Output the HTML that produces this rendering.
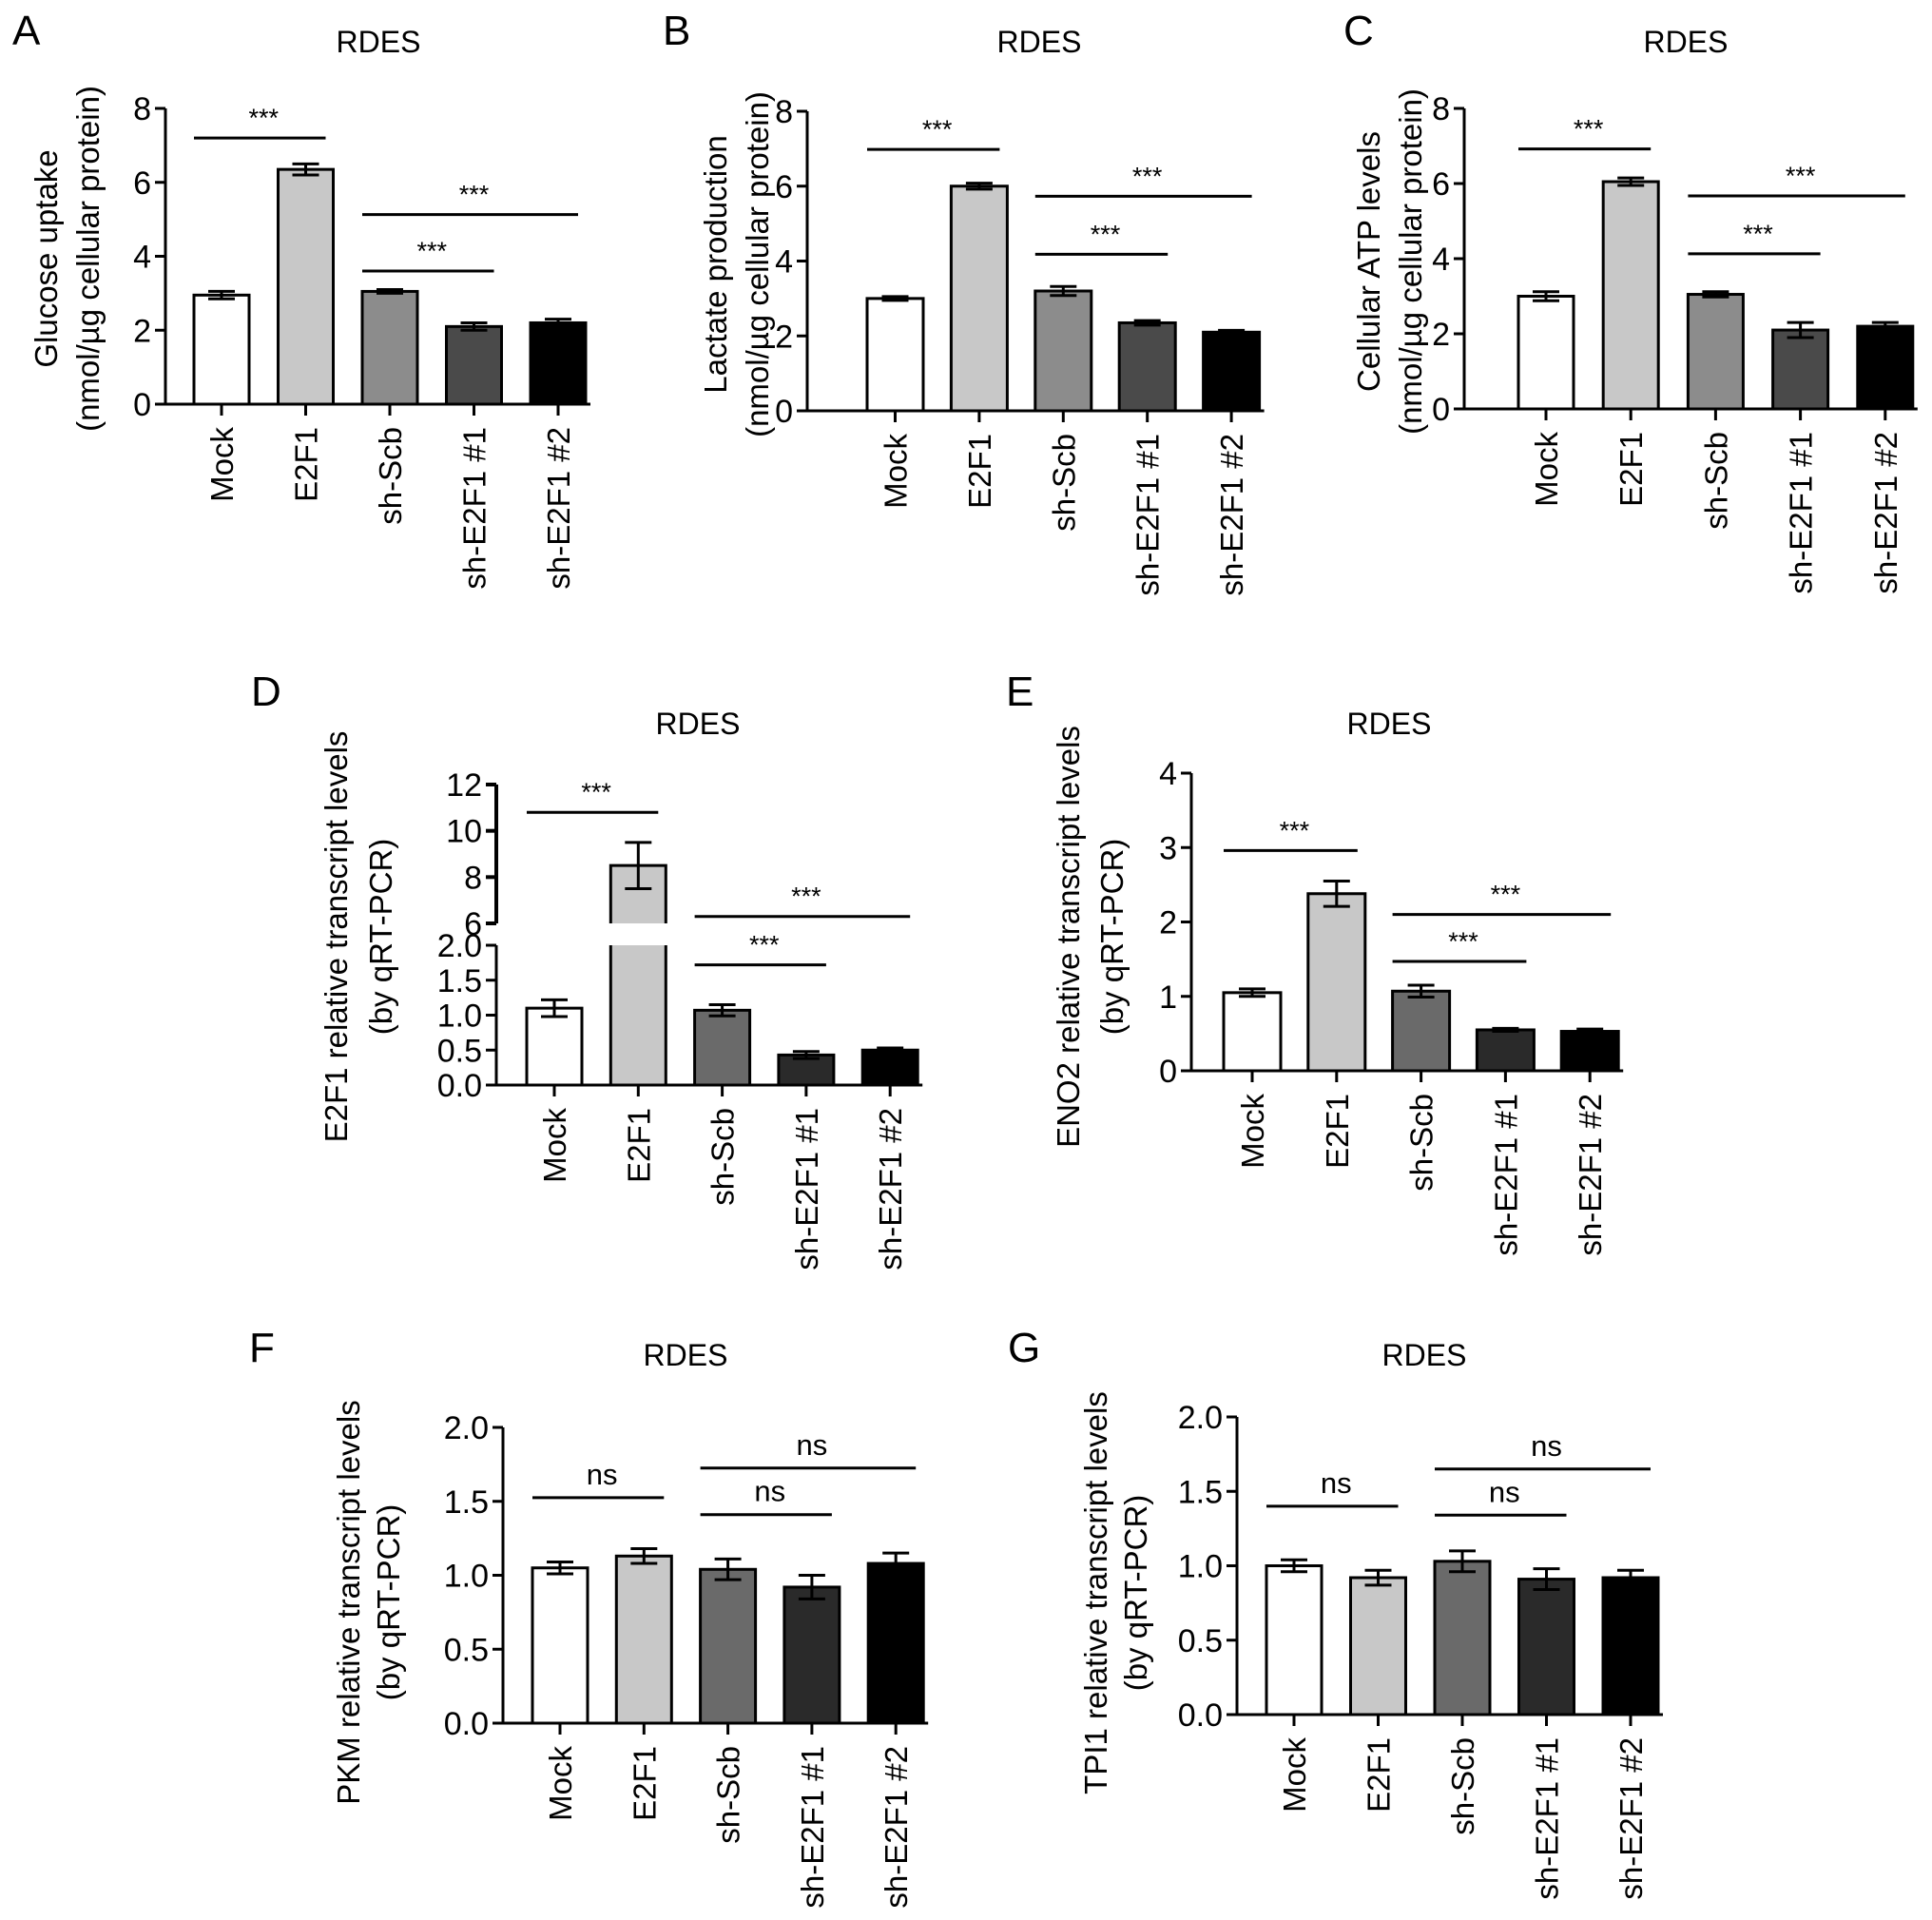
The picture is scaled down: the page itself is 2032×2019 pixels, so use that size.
<!DOCTYPE html>
<html><head><meta charset="utf-8"><style>
html,body{margin:0;padding:0;background:#fff;}
svg{display:block;font-family:"Liberation Sans",Arial,sans-serif;}
</style></head><body>
<svg id="fig" width="2032" height="2019" viewBox="0 0 2032 2019" xmlns="http://www.w3.org/2000/svg"></svg>
<script>
const categories = ["Mock","E2F1","sh-Scb","sh-E2F1 #1","sh-E2F1 #2"];
const valuesA = [2.95,6.35,3.05,2.1,2.2];
const errorsA = [0.1,0.15,0.05,0.1,0.1];
const valuesB = [3.0,6.0,3.2,2.35,2.1];
const errorsB = [0.05,0.08,0.12,0.06,0.05];
const valuesC = [3.0,6.05,3.05,2.1,2.2];
const errorsC = [0.12,0.1,0.07,0.2,0.1];
const valuesD = [1.1,8.5,1.07,0.43,0.5];
const errorsD = [0.12,1.0,0.08,0.05,0.03];
const valuesE = [1.05,2.38,1.07,0.55,0.53];
const errorsE = [0.05,0.17,0.08,0.02,0.03];
const valuesF = [1.05,1.13,1.04,0.92,1.08];
const errorsF = [0.04,0.05,0.07,0.08,0.07];
const valuesG = [1.0,0.92,1.03,0.91,0.92];
const errorsG = [0.04,0.05,0.07,0.07,0.05];
const ticks8 = [0,2,4,6,8];
const ticks4 = [0,1,2,3,4];
const ticks2 = [0,0.5,1.0,1.5,2.0];
const ticksDUpper = [6,8,10,12];

const NS="http://www.w3.org/2000/svg";
const svg=document.getElementById('fig');
function el(tag,attrs,parent){const e=document.createElementNS(NS,tag);for(const k in attrs)e.setAttribute(k,attrs[k]);(parent||svg).appendChild(e);return e;}

function panel(p){
  const g=el('g',{});
  
  
  const L=el('text',{x:p.letter[0],y:p.letter[1],'font-size':44,fill:'#000'},g);L.textContent=p.id;
  
  
  const T=el('text',{x:p.title[0],y:p.title[1],'font-size':32,'text-anchor':'middle'},g);T.textContent='RDES';
  
  
  const n=categories.length;
  const bw=p.bw;
  const xc=i=>p.c0+p.cs*i;
  const x1=xc(n-1)+bw/2+5;
  let yScale;
  if(p.broken){
    yScale=v=> v<=2 ? p.y0-(v/2)*(p.y0-p.yl2) : p.yu6-((v-6)/6)*(p.yu6-p.yu12);
  } else {
    yScale=v=>p.y0-(v/p.max)*(p.y0-p.ytop);
  }
  const colors=p.colors;
  for(let i=0;i<n;i++){
    const v=p.values[i],e=p.errors[i];
    if(p.broken && v>2){
      const r1=el('rect',{x:xc(i)-bw/2,y:p.yl2,width:bw,height:p.y0-p.yl2,fill:colors[i],stroke:'none'},g);
      
      
      el('line',{x1:xc(i)-bw/2,y1:p.yl2,x2:xc(i)-bw/2,y2:p.y0,stroke:'#000','stroke-width':3},g);
      el('line',{x1:xc(i)+bw/2,y1:p.yl2,x2:xc(i)+bw/2,y2:p.y0,stroke:'#000','stroke-width':3},g);
      const r2=el('rect',{x:xc(i)-bw/2,y:yScale(v),width:bw,height:p.yu6-yScale(v),fill:colors[i],stroke:'none'},g);
      
      
      el('polyline',{points:`${xc(i)-bw/2},${p.yu6} ${xc(i)-bw/2},${yScale(v)} ${xc(i)+bw/2},${yScale(v)} ${xc(i)+bw/2},${p.yu6}`,fill:'none',stroke:'#000','stroke-width':3},g);
    } else {
      const r=el('rect',{x:xc(i)-bw/2,y:yScale(v),width:bw,height:p.y0-yScale(v),fill:colors[i],stroke:'#000','stroke-width':3},g);
      
      
    }
    const yt=yScale(v+e),yb=yScale(v-e);
    const eb=el('path',{d:`M${xc(i)-14},${yt}H${xc(i)+14}M${xc(i)},${yt}V${yb}M${xc(i)-14},${yb}H${xc(i)+14}`,stroke:'#000','stroke-width':3,fill:'none'},g);
    
    
  }
  if(p.broken){
    el('line',{x1:p.x0,y1:p.y0,x2:p.x0,y2:p.yl2,stroke:'#000','stroke-width':3},g);
    el('line',{x1:p.x0,y1:p.yu6,x2:p.x0,y2:p.yu12,stroke:'#000','stroke-width':4},g);
  } else {
    el('line',{x1:p.x0,y1:p.y0,x2:p.x0,y2:p.ytop,stroke:'#000','stroke-width':3},g);
  }
  const xa=el('line',{x1:p.x0-10,y1:p.y0,x2:x1,y2:p.y0,stroke:'#000','stroke-width':3},g);
  
  
  for(const t of p.ticks){
    const y=yScale(t);
    el('line',{x1:p.x0-11,y1:y,x2:p.x0,y2:y,stroke:'#000','stroke-width':3},g);
    const tx=el('text',{x:p.x0-15,y:y+12,'font-size':34,'text-anchor':'end'},g);
    tx.textContent=p.fmt?t.toFixed(1):t;
    
    
  }
  if(p.broken){
    for(const t of ticksDUpper){
      const y=yScale(t);
      el('line',{x1:p.x0-11,y1:y,x2:p.x0,y2:y,stroke:'#000','stroke-width':4},g);
      const tx=el('text',{x:p.x0-15,y:y+12,'font-size':34,'text-anchor':'end'},g);
      tx.textContent=t;
      
      
    }
  }
  for(let i=0;i<n;i++){
    el('line',{x1:xc(i),y1:p.y0,x2:xc(i),y2:p.y0+12,stroke:'#000','stroke-width':3},g);
    const c=el('text',{x:0,y:0,'font-size':33,'text-anchor':'end',transform:`translate(${xc(i)+12},${p.y0+24}) rotate(-90)`},g);
    c.textContent=categories[i];
    
    
  }
  const yl=el('text',{'font-size':33,'text-anchor':'middle',transform:`translate(${p.ylx},${p.ylc}) rotate(-90)`},g);
  p.ylabel.forEach((s,k)=>{const ts=el('tspan',{x:0,dy:k===0?0:p.ylgap},yl);ts.textContent=s;});
  
  
  for(const s of p.sig){
    const y=yScale(s[2]);
    const ln=el('line',{x1:xc(s[0])-bw/2,y1:y,x2:xc(s[1])+bw/2-8,y2:y,stroke:'#000','stroke-width':3},g);
    
    
    const st=el('text',{x:(xc(s[0])+xc(s[1]))/2,y:p.ns?y-14:y-12,'font-size':p.ns?31:27,'text-anchor':'middle'},g);
    st.textContent=p.ns?'ns':'***';
    
    
  }
}
const colA=['#fff','#c8c8c8','#8c8c8c','#4a4a4a','#000'];
const colB=['#fff','#c8c8c8','#6a6a6a','#2a2a2a','#000'];
panel({id:'A',letter:[13,47],title:[398,55],x0:174,c0:233,cs:88.5,y0:425,ytop:114,max:8,bw:58,values:valuesA,errors:errorsA,ticks:ticks8,colors:colA,ylx:60,ylc:272,ylgap:44,ylabel:['Glucose uptake','(nmol/µg cellular protein)'],sig:[[0,1,7.2],[2,3,3.6],[2,4,5.13]]});
panel({id:'B',letter:[697,47],title:[1093,55],x0:849,c0:941.5,cs:88.4,y0:432,ytop:117,max:8,bw:59,values:valuesB,errors:errorsB,ticks:ticks8,colors:colA,ylx:764,ylc:278,ylgap:44,ylabel:['Lactate production','(nmol/µg cellular protein)'],sig:[[0,1,6.98],[2,3,4.18],[2,4,5.73]]});
panel({id:'C',letter:[1413,47],title:[1773,55],x0:1540,c0:1626,cs:89.2,y0:430,ytop:114,max:8,bw:58,values:valuesC,errors:errorsC,ticks:ticks8,colors:colA,ylx:1451,ylc:275,ylgap:44,ylabel:['Cellular ATP levels','(nmol/µg cellular protein)'],sig:[[0,1,6.92],[2,3,4.13],[2,4,5.67]]});
panel({id:'D',broken:true,letter:[264,742],title:[734,772],x0:522,c0:583,cs:88.3,y0:1141,yl2:994,yu6:971,yu12:825,bw:58,values:valuesD,errors:errorsD,ticks:ticks2,fmt:true,colors:colB,ylx:365,ylc:985,ylgap:47,ylabel:['E2F1 relative transcript levels','(by qRT-PCR)'],sig:[[0,1,10.8],[2,3,1.72],[2,4,6.3]]});
panel({id:'E',letter:[1058,742],title:[1461,772],x0:1253,c0:1317,cs:88.8,y0:1126,ytop:813,max:4,bw:60,values:valuesE,errors:errorsE,ticks:ticks4,colors:colB,ylx:1135,ylc:985,ylgap:46,ylabel:['ENO2 relative transcript levels','(by qRT-PCR)'],sig:[[0,1,2.96],[2,3,1.47],[2,4,2.1]]});
panel({id:'F',letter:[262,1432],title:[721,1436],x0:529,c0:589,cs:88.3,y0:1812,ytop:1501,max:2,bw:58,values:valuesF,errors:errorsF,ticks:ticks2,fmt:true,colors:colB,ylx:378,ylc:1685,ylgap:42,ylabel:['PKM relative transcript levels','(by qRT-PCR)'],sig:[[0,1,1.525],[2,3,1.41],[2,4,1.725]],ns:true});
panel({id:'G',letter:[1060,1432],title:[1498,1436],x0:1301,c0:1361,cs:88.5,y0:1803,ytop:1490,max:2,bw:58,values:valuesG,errors:errorsG,ticks:ticks2,fmt:true,colors:colB,ylx:1164,ylc:1675,ylgap:42,ylabel:['TPI1 relative transcript levels','(by qRT-PCR)'],sig:[[0,1,1.40],[2,3,1.34],[2,4,1.65]],ns:true});
</script>
</body></html>
